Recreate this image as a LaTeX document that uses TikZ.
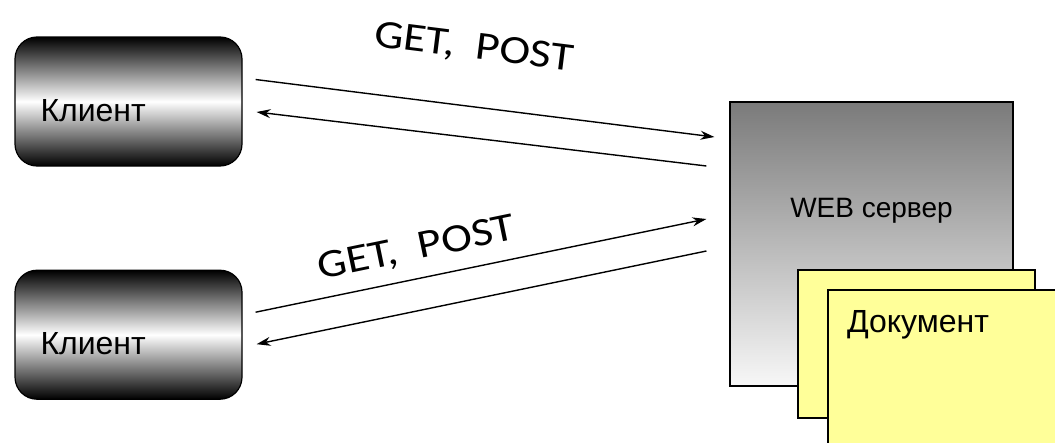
\documentclass[tikz,border=0pt]{standalone}
\usepackage{fontspec}
\setmainfont{Liberation Sans}
\newfontfamily\getfont{Carlito}
\usepackage{xcolor}
\usepackage{tikz}
\usetikzlibrary{arrows.meta,
                positioning,
                shapes}
\definecolor{docyellow}{RGB}{255,255,153}
\tikzstyle{arrow} = [line width=1.4pt,-{Stealth[length=14pt,width=9pt]}]
\tikzstyle{client} = [draw, line width=1.2pt, rounded corners=22pt, minimum width=227pt, minimum height=129pt,
    top color=black, bottom color=black, middle color=white,
    text width=176pt, align=left, text height=40pt, text depth=0pt, font=\fontsize{32}{38}\selectfont]
\tikzstyle{server} = [draw, line width=1.2pt, minimum width=283pt, minimum height=284pt,
    top color=black!52, bottom color=black!3,
    text height=20pt, text depth=74pt, font=\fontsize{28}{34}\selectfont]
\tikzstyle{doc} = [draw, line width=1.6pt, fill=docyellow, minimum width=237pt, minimum height=148pt]
\tikzstyle{method} = [inner sep=0pt, xscale=1.16, font=\getfont\fontsize{40}{48}\selectfont]

\begin{document}
\begin{tikzpicture}[x=1pt,y=-1pt]
    \useasboundingbox (0,0) rectangle (1055,442);

    \node[client] (cl1) at (128.5,101.5) {Клиент};
    \node[client] (cl2)[below=103pt of cl1] {Клиент};

    \node[server] (srv) at (871.5,244) {WEB сервер};
    \node[doc] (doc1) at (916.5,344) {};
    \node[doc, anchor=north west, minimum width=240pt, minimum height=175pt,
          text width=202pt, align=left, text height=23pt, text depth=114pt,
          font=\fontsize{32}{38}\selectfont] (doc2) at ([xshift=30pt,yshift=-20pt]doc1.north west) {Документ};

    \draw[arrow] ([xshift=13pt,yshift=22pt]cl1.east) -- node[method, sloped, pos=0.46, above=42pt] (m1) {GET,\ \ POST} ([xshift=-15pt,yshift=107pt]srv.west);
    \draw[arrow] ([xshift=-23pt,yshift=78pt]srv.west) -- ([xshift=14pt,yshift=-10.5pt]cl1.east);

    \draw[arrow] ([xshift=13pt,yshift=22.5pt]cl2.east) -- node[method, sloped, pos=0.37, above=13pt] (m2) {GET,\ \ POST} ([xshift=-23pt,yshift=25pt]srv.west);
    \draw[arrow] ([xshift=-23pt,yshift=-7pt]srv.west) -- ([xshift=14pt,yshift=-9.5pt]cl2.east);
\end{tikzpicture}
\end{document}
